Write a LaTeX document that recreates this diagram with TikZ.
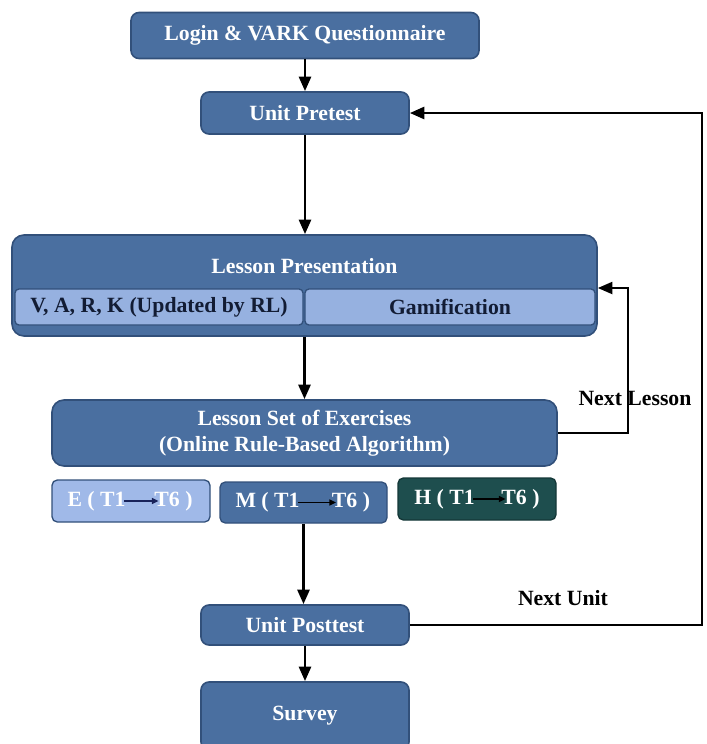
\documentclass[tikz,border=0pt]{standalone}
\usepackage{fontspec}
\setmainfont{Liberation Serif}
\usetikzlibrary{arrows.meta}

\begin{document}
\begin{tikzpicture}[x=0.75pt,y=0.75pt,yscale=-1,xscale=1,
  font=\fontsize{16.3}{19.5}\selectfont\bfseries,
  blk/.style={draw={rgb, 255:red, 50; green, 80; blue, 122 },line width=1.2,fill={rgb, 255:red, 74; green, 111; blue, 160 },text=white,rounded corners=6,inner sep=0pt},
  subblk/.style={draw={rgb, 255:red, 50; green, 80; blue, 122 },line width=1,fill={rgb, 255:red, 150; green, 177; blue, 224 },text={rgb, 255:red, 18; green, 28; blue, 52 },rounded corners=3,inner sep=0pt},
  lvl/.style={draw={rgb, 255:red, 50; green, 80; blue, 122 },line width=1,rounded corners=4,inner sep=0pt,minimum width=118.5,minimum height=31.5},
  flow/.style={line width=2.2,-{Triangle[width=9,length=11]}},
  tarr/.style={line width=1.1,-{Triangle[width=4.5,length=5]},shorten <=-2,shorten >=-4}]
        \clip (0,0) rectangle (707,744);

        % Boxes
        \node [blk,minimum width=261,minimum height=34.5] (login) at (305,35.5) {Login \& VARK Questionnaire};
        \node [blk,minimum width=156,minimum height=31.5] (pre) at (305,113) {Unit Pretest};
        \node [blk,minimum width=438.75,minimum height=75.75,rounded corners=9] (lp) at (304.5,285.5) {};
        \node [text=white] (lpt) at (304.5,266) {Lesson Presentation};
        \node [subblk,minimum width=216,minimum height=27] (vark) at (159,307) {V, A, R, K (Updated by RL)};
        \node [subblk,minimum width=217.5,minimum height=27] (gam) at (450,307) {Gamification};
        \node [blk,minimum width=378.75,minimum height=49.5,rounded corners=9,align=center] (ex) at (304.5,433) {Lesson Set of Exercises\\(Online Rule-Based Algorithm)};

        % Levels E, M, H
        \node [lvl,fill={rgb, 255:red, 160; green, 185; blue, 232 }] (ebox) at (131,501) {};
        \node [lvl,fill={rgb, 255:red, 74; green, 111; blue, 160 },minimum width=125.25,minimum height=30.75] (mbox) at (303.5,502.5) {};
        \node [lvl,fill={rgb, 255:red, 30; green, 78; blue, 78 },draw={rgb, 255:red, 20; green, 55; blue, 55 }] (hbox) at (477,499) {};
        \node [text=white,inner sep=0.75] (e1) at (96.5,501) {E ( T1};
        \node [text=white,inner sep=0.75] (e2) at (173.5,501) {T6 )};
        \node [text=white,inner sep=0.75] (m1) at (267.5,502.5) {M ( T1};
        \node [text=white,inner sep=0.75] (m2) at (351,502.5) {T6 )};
        \node [text=white,inner sep=0.75] (h1) at (444.5,499) {H ( T1};
        \node [text=white,inner sep=0.75] (h2) at (520.5,499) {T6 )};
        \draw [tarr,draw={rgb, 255:red, 25; green, 35; blue, 90 }] (e1) -- (e2);
        \draw [tarr] (m1) -- (m2);
        \draw [tarr] (h1) -- (h2);

        \node [blk,minimum width=156,minimum height=30] (post) at (305,625) {Unit Posttest};
        \node [blk,minimum width=156,minimum height=51] (survey) at (305,716) {Survey};

        % Arrows
        \draw [flow] (login) -- (pre);
        \draw [flow] (pre.south) -- (pre.south |- lp.north);
        \draw [flow] (lp.south) -- (lp.south |- ex.north);
        \draw [flow] (mbox.south) -- (mbox.south |- post.north);
        \draw [flow] (post) -- (survey);

        % Loops
        \coordinate (nl) at (628,288);
        \draw [flow,line width=1.8] (ex.east) -| (nl) -- (nl -| lp.east);
        \coordinate (nu) at (702,113);
        \draw [flow] (post.east) -| (nu) -- (pre.east);

        % Text Node
        \node (nltxt) at (635,398) {Next Lesson};
        % Text Node
        \node (nutxt) at (563,598) {Next Unit};

\end{tikzpicture}
\end{document}
